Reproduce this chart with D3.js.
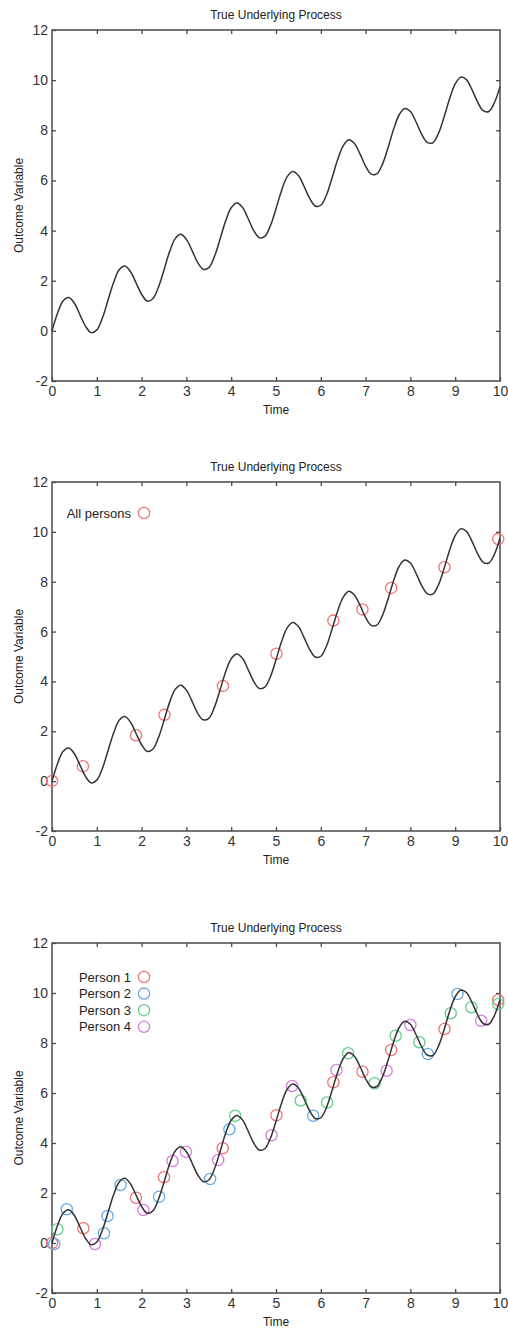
<html>
<head>
    <meta charset="utf-8">
    <title>True Underlying Process</title>
    <script src="https://d3js.org/d3.v7.min.js"></script>
</head>
<style>
    body { margin: 0; background: #fff; }
    svg text { font-family: "Liberation Sans", Arial, sans-serif; fill: #222; }
    .frame { fill: none; stroke: #4a4a4a; stroke-width: 1.5px; }
    .axis path { display: none; }
    .axis line { stroke: #4a4a4a; stroke-width: 1.3px; }
    .axis text { font-size: 14px; fill: #333; }
    .process { fill: none; stroke: #333; stroke-width: 1.5px; }
    .obs { fill: none; stroke-width: 1.3px; }
</style>
<body>
<script>
    // time grid and the process curve
    let timeGrid = [0, 0.125, 0.25, 0.375, 0.5, 0.625, 0.75, 0.875, 1, 1.125, 1.25, 1.375, 1.5, 1.625, 1.75, 1.875,
        2, 2.125, 2.25, 2.375, 2.5, 2.625, 2.75, 2.875, 3, 3.125, 3.25, 3.375, 3.5, 3.625, 3.75, 3.875,
        4, 4.125, 4.25, 4.375, 4.5, 4.625, 4.75, 4.875, 5, 5.125, 5.25, 5.375, 5.5, 5.625, 5.75, 5.875,
        6, 6.125, 6.25, 6.375, 6.5, 6.625, 6.75, 6.875, 7, 7.125, 7.25, 7.375, 7.5, 7.625, 7.75, 7.875,
        8, 8.125, 8.25, 8.375, 8.5, 8.625, 8.75, 8.875, 9, 9.125, 9.25, 9.375, 9.5, 9.625, 9.75, 9.875, 10];
    let processValues = [0.00, 0.71, 1.20, 1.33, 1.10, 0.64, 0.18, -0.07, 0.04, 0.51, 1.22, 1.93, 2.44, 2.59, 2.37, 1.92,
        1.46, 1.19, 1.28, 1.74, 2.43, 3.16, 3.68, 3.85, 3.65, 3.21, 2.73, 2.46, 2.52, 2.96, 3.65, 4.38,
        4.91, 5.10, 4.93, 4.49, 4.01, 3.72, 3.77, 4.19, 4.87, 5.60, 6.15, 6.36, 6.20, 5.77, 5.29, 4.98,
        5.01, 5.41, 6.09, 6.82, 7.38, 7.62, 7.47, 7.06, 6.57, 6.25, 6.26, 6.64, 7.30, 8.04, 8.62, 8.87,
        8.75, 8.34, 7.85, 7.52, 7.50, 7.87, 8.52, 9.26, 9.85, 10.12, 10.02, 9.62, 9.13, 8.78, 8.75, 9.10, 9.74];

    // observations [time, value]
    let allPersons = [[0, 0.01], [0.69, 0.60], [1.875, 1.84], [2.51, 2.66], [3.815, 3.82], [5.01, 5.11],
        [6.28, 6.44], [6.93, 6.89], [7.57, 7.75], [8.76, 8.58], [9.96, 9.71]];
    let person1 = [[0, 0], [0.70, 0.59], [1.875, 1.81], [2.5, 2.63], [3.81, 3.79], [5.01, 5.11],
        [6.28, 6.43], [6.93, 6.85], [7.57, 7.72], [8.76, 8.56], [9.96, 9.72]];
    let person2 = [[0.05, -0.04], [0.33, 1.35], [1.16, 0.39], [1.24, 1.08], [1.53, 2.32], [2.39, 1.85],
        [3.53, 2.56], [3.96, 4.55], [5.83, 5.09], [8.39, 7.56], [9.05, 9.96]];
    let person3 = [[0.12, 0.55], [4.09, 5.09], [5.55, 5.70], [6.14, 5.62], [6.61, 7.59], [7.2, 6.39],
        [7.67, 8.29], [8.2, 8.03], [8.9, 9.19], [9.36, 9.43], [9.96, 9.56]];
    let person4 = [[0.96, -0.04], [2.04, 1.32], [2.69, 3.28], [2.99, 3.65], [3.71, 3.32], [4.9, 4.31],
        [5.36, 6.28], [6.35, 6.92], [7.47, 6.89], [8.0, 8.72], [9.58, 8.89]];

    let xTicks = [0, 1, 2, 3, 4, 5, 6, 7, 8, 9, 10];
    let yTicks = [-2, 0, 2, 4, 6, 8, 10, 12];
    let titleText = "True Underlying Process";

    let colors = { red: "#f07575", blue: "#6aa8e0", green: "#64cc8a", purple: "#d87ce0" };

    let svg = d3.select("body").append("svg")
        .attr("width", 508)
        .attr("height", 1332);

    let left = 52, right = 500;
    let x = d3.scaleLinear().domain([0, 10]).range([left, right]);

    let process = timeGrid.map(function (t, i) { return [t, processValues[i]]; });

    // plain hyphen minus, like the original
    let plain = function (d) { return String(d); };

    function drawPanel(top, bottom, series, legend, legendTop) {
        let y = d3.scaleLinear().domain([-2, 12]).range([bottom, top]);
        let g = svg.append("g");

        // title
        g.append("text")
            .attr("x", (left + right) / 2)
            .attr("y", top - 11)
            .attr("text-anchor", "middle")
            .attr("font-size", 12)
            .text(titleText);

        // axes with inward ticks
        g.append("g").attr("class", "axis")
            .attr("transform", "translate(0," + bottom + ")")
            .call(d3.axisBottom(x).tickValues(xTicks).tickSize(-4).tickPadding(5).tickFormat(plain));
        g.append("g").attr("class", "axis")
            .attr("transform", "translate(0," + top + ")")
            .call(d3.axisTop(x).tickValues(xTicks.slice(1, -1)).tickSize(-4).tickFormat(""));
        g.append("g").attr("class", "axis")
            .attr("transform", "translate(" + left + ",0)")
            .call(d3.axisLeft(y).tickValues(yTicks).tickSize(-4).tickPadding(4).tickFormat(plain));
        g.append("g").attr("class", "axis")
            .attr("transform", "translate(" + right + ",0)")
            .call(d3.axisRight(y).tickValues(yTicks.slice(1, -1)).tickSize(-4).tickFormat(""));

        g.append("rect").attr("class", "frame")
            .attr("x", left).attr("y", top)
            .attr("width", right - left).attr("height", bottom - top);

        // axis labels
        g.append("text")
            .attr("x", (left + right) / 2)
            .attr("y", bottom + 33)
            .attr("text-anchor", "middle")
            .attr("font-size", 12)
            .text("Time");
        g.append("text")
            .attr("transform", "translate(23," + (top + bottom) / 2 + ") rotate(-90)")
            .attr("text-anchor", "middle")
            .attr("font-size", 12)
            .text("Outcome Variable");

        // observations
        series.forEach(function (s) {
            g.selectAll(null)
                .data(s.data)
                .enter()
                .append("circle")
                .attr("class", "obs")
                .attr("cx", function (d) { return x(d[0]); })
                .attr("cy", function (d) { return y(d[1]); })
                .attr("r", 5.6)
                .attr("stroke", s.color);
        });

        // the process curve
        let line = d3.line()
            .x(function (d) { return x(d[0]); })
            .y(function (d) { return y(d[1]); })
            .curve(d3.curveCatmullRom);
        g.append("path")
            .datum(process)
            .attr("class", "process")
            .attr("d", line);

        // legend
        if (legend) {
            legend.forEach(function (item, i) {
                let ly = top + legendTop + i * 16.6;
                g.append("text")
                    .attr("x", left + 79)
                    .attr("y", ly + 4.5)
                    .attr("text-anchor", "end")
                    .attr("font-size", 13)
                    .text(item.label);
                g.append("circle")
                    .attr("class", "obs")
                    .attr("cx", left + 92)
                    .attr("cy", ly)
                    .attr("r", 5.6)
                    .attr("stroke", item.color);
            });
        }
    }

    drawPanel(30, 381, [], null, 0);

    let legend2 = [{ label: "All persons", color: colors.red }];
    drawPanel(482, 831, [{ data: allPersons, color: colors.red }], legend2, 31);

    let legend3 = [
        { label: "Person 1", color: colors.red },
        { label: "Person 2", color: colors.blue },
        { label: "Person 3", color: colors.green },
        { label: "Person 4", color: colors.purple }
    ];
    drawPanel(943, 1293, [
        { data: person1, color: colors.red },
        { data: person2, color: colors.blue },
        { data: person3, color: colors.green },
        { data: person4, color: colors.purple }
    ], legend3, 34);
</script>
</body>
</html>
